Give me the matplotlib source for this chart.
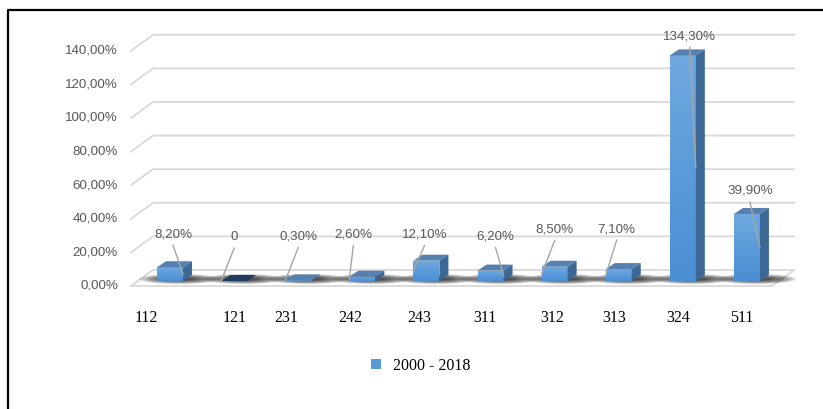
import numpy as np
import matplotlib
matplotlib.use('Agg')
import matplotlib.pyplot as plt
from matplotlib.patches import Polygon, Ellipse, Rectangle
from matplotlib.lines import Line2D
from matplotlib.transforms import IdentityTransform
from matplotlib.colors import LinearSegmentedColormap

# data
codes = ['112', '121', '231', '242', '243', '311', '312', '313', '324', '511']
values = [8.2, 0, 0.3, 2.6, 12.1, 6.2, 8.5, 7.1, 134.3, 39.9]
value_labels = ['8,20%', '0', '0,30%', '2,60%', '12,10%', '6,20%', '8,50%', '7,10%', '134,30%', '39,90%']
yticks = [0, 20, 40, 60, 80, 100, 120, 140]
ytick_labels = ['0,00%', '20,00%', '40,00%', '60,00%', '80,00%', '100,00%', '120,00%', '140,00%']
series_name = '2000 - 2018'

# layout tweaks (pixels)
lab_dx = [3, 0, 0, -9, -2, 5, 0, -2, 7, 3]
lab_up = [33, 44, 44, 42, 26, 34, 37, 40, 19, 23]
leader_side = [1, -1, -1, -1, -1, 1, -1, -1, 1, 1]
tick_dx = [-24, 0, -12, -12, -7, -6, -2, -5, -5, -5]

W, H = 823, 409
fig = plt.figure(figsize=(W / 100, H / 100), dpi=100)
ax = fig.add_axes([138 / W, 128 / H, 641 / W, 235.2 / H])
ax.set_xlim(-0.5, 9.5)
ax.set_ylim(0, 140)
ax.axis('off')

grid_c = '#d9d9d9'
txt_c = '#595959'
sans = 'Liberation Sans'
serif = 'Liberation Serif'
BACK = np.array([15, 11])
FRONT = np.array([-7, -5])
D = np.array([9, 6])
bw = 0.405
idt = IdentityTransform()


def px(x, y):
    return ax.transData.transform((x, y))


def line_px(pts, **kw):
    xs = [p[0] for p in pts]
    ys = [p[1] for p in pts]
    ax.add_line(Line2D(xs, ys, transform=idt, clip_on=False, **kw))


def poly_px(pts, **kw):
    ax.add_patch(Polygon(pts, closed=True, transform=idt, clip_on=False, **kw))


# walls / gridlines
for v, lab in zip(yticks, ytick_labels):
    l = px(-0.5, v)
    r = px(9.5, v)
    line_px([l + FRONT, l + BACK, r + BACK], color=grid_c, lw=1.3, zorder=1)
    p = l + FRONT + np.array([-13, 0])
    ax.text(p[0], p[1], lab, transform=idt, ha='right', va='center',
            fontsize=9.6, color=txt_c, family=sans)
l0 = px(-0.5, 0)
r0 = px(9.5, 0)
line_px([l0 + FRONT, r0 + FRONT, r0 + BACK], color=grid_c, lw=1.3, zorder=1)

# shadows on the floor
for i in range(len(values)):
    c = px(i, 0) + np.array([9, 2])
    for k in range(8):
        ax.add_patch(Ellipse(c, 80 - 7 * k, 10 - k, transform=idt, clip_on=False,
                             facecolor='black', edgecolor='none', alpha=0.13, zorder=2))

# bars
x = np.arange(len(values))
bars = ax.bar(x, values, width=bw, color='#5b9bd5', zorder=3, clip_on=False)
cmap = LinearSegmentedColormap.from_list('g', ['#4a8ed4', '#6fa9e0'])
grad = np.linspace(0, 1, 64).reshape(-1, 1)
for i, (b, v) in enumerate(zip(bars, values)):
    x0 = px(i - bw / 2, v)
    x1 = px(i + bw / 2, v)
    b0 = px(i + bw / 2, 0)
    if v > 0:
        im = ax.imshow(grad, extent=(i - bw / 2, i + bw / 2, 0, v), origin='lower',
                       cmap=cmap, aspect='auto', zorder=3.1)
        im.set_clip_path(b)
        poly_px([b0, x1, x1 + D, b0 + D], facecolor='#3b6894', edgecolor='none', zorder=3.2)
        top_c = '#5680b0'
    else:
        top_c = '#1f3b5e'
    poly_px([x0, x1, x1 + D, x0 + D], facecolor=top_c, edgecolor='none', zorder=3.3)
ax.set_xlim(-0.5, 9.5)
ax.set_ylim(0, 140)

# data labels with leader lines
for i, v in enumerate(values):
    top = px(i, v)
    lp = top + np.array([lab_dx[i], lab_up[i]])
    ax.text(lp[0], lp[1], value_labels[i], transform=idt, ha='center', va='center',
            fontsize=9.6, color=txt_c, family=sans, zorder=5)
    end = px(i + leader_side[i] * bw / 2, v / 2)
    line_px([lp + np.array([0, -11]), end], color='#a6a6a6', lw=1.0, zorder=4)

# category labels
for i, c in enumerate(codes):
    p = px(i, 0) + np.array([tick_dx[i], -37])
    ax.text(p[0], p[1], c, transform=idt, ha='center', va='center',
            fontsize=11.5, color='black', family=serif)

# legend
fig.legend(handles=[Rectangle((0, 0), 1, 1, facecolor='#5b9bd5', edgecolor='none')],
           labels=[series_name], loc='center', bbox_to_anchor=(421 / W, 1 - 366 / H),
           frameon=False, handlelength=0.6, handleheight=0.6, handletextpad=0.8,
           prop={'family': serif, 'size': 11.5})

# outer frame (top and left edges)
fig.add_artist(Line2D([8, 8, W], [0, H - 10, H - 10], transform=idt, color='black', lw=1.6))

fig.savefig('out.png', dpi=100)
